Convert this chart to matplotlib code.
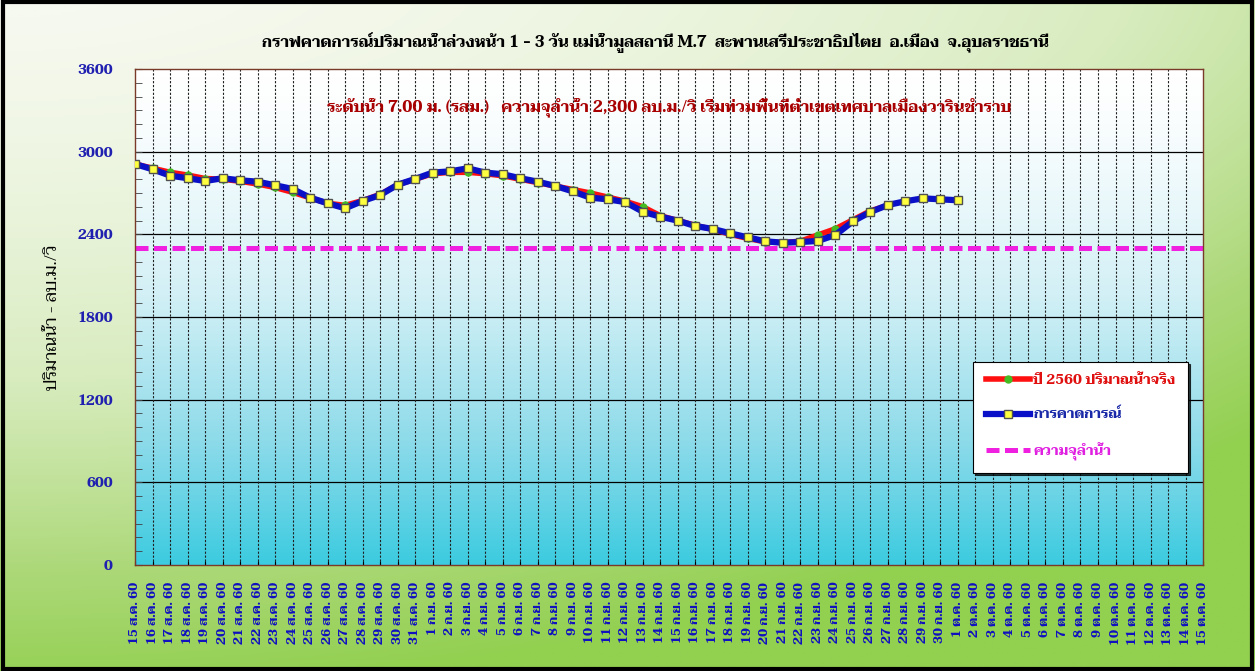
import numpy as np
import matplotlib
matplotlib.use("Agg")
import matplotlib.pyplot as plt
from matplotlib.colors import LinearSegmentedColormap
from matplotlib.patches import Rectangle
from matplotlib.ticker import MultipleLocator

# Thai-capable serif first, Latin fallback after
plt.rcParams['font.family'] = ['Taviraj', 'Noto Serif Thai', 'Trirong', 'Sarabun', 'Chakra Petch', 'DejaVu Serif']
plt.rcParams['font.weight'] = 'bold'

# === data ===
aug_days = list(range(15, 32))
sep_days = list(range(1, 31))
oct_days = list(range(1, 16))
dates = ([f"{d} ส.ค. 60" for d in aug_days] +
         [f"{d} ก.ย. 60" for d in sep_days] +
         [f"{d} ต.ค. 60" for d in oct_days])

# observed discharge 2560 (m3/s)
actual = [2910, 2880, 2850, 2830, 2805, 2800, 2785, 2765, 2740, 2705,
          2665, 2625, 2610, 2645, 2690, 2760, 2800, 2840, 2850, 2850,
          2840, 2825, 2800, 2775, 2750, 2725, 2700, 2670, 2640, 2600,
          2535, 2500, 2465, 2435, 2400, 2370, 2345, 2340, 2350, 2395,
          2440, 2505, 2570, 2610]

# forecast discharge (m3/s)
forecast = [2910, 2872, 2826, 2807, 2787, 2807, 2792, 2782, 2756, 2729,
            2666, 2625, 2589, 2642, 2685, 2760, 2802, 2848, 2857, 2879,
            2848, 2836, 2807, 2782, 2751, 2712, 2666, 2654, 2634, 2564,
            2528, 2499, 2460, 2439, 2407, 2378, 2349, 2339, 2344, 2352,
            2395, 2494, 2562, 2613, 2640, 2661, 2654, 2647]

capacity = 2300

title = "กราฟคาดการณ์ปริมาณน้ำล่วงหน้า 1 - 3 วัน แม่น้ำมูลสถานี M.7  สะพานเสรีประชาธิปไตย  อ.เมือง  จ.อุบลราชธานี"
note = "ระดับน้ำ 7.00 ม. (รสม.)   ความจุลำน้ำ 2,300 ลบ.ม./วิ เริ่มท่วมพื้นที่ต่ำเขตเทศบาลเมืองวารินชำราบ"

# === figure with green background ===
fig = plt.figure(figsize=(12.55, 6.71), dpi=100)
bg = fig.add_axes([0, 0, 1, 1], zorder=-10)
yy, xx = np.mgrid[0:1:300j, 0:1:600j]   # yy = 0 at the top row
shade = np.clip(0.95 * yy ** 1.5 + 0.5 * xx ** 2, 0, 1)
bg_cmap = LinearSegmentedColormap.from_list(
    "bg", [(0, "#f6f9ef"), (0.4, "#d8ecbf"), (0.75, "#acd878"), (1, "#92d050")])
bg.imshow(shade, cmap=bg_cmap, vmin=0, vmax=1, aspect="auto", extent=[0, 1, 0, 1])
bg.set_xlim(0, 1)
bg.set_ylim(0, 1)
bg.axis("off")

ax = fig.add_axes([0.1076, 0.158, 0.8510, 0.7392])
ax.set_facecolor("none")

# plot area gradient: white at top to cyan at bottom
grad = np.linspace(0, 1, 256).reshape(-1, 1) ** 1.4
pa_cmap = LinearSegmentedColormap.from_list("pa", ["#ffffff", "#d2f0f6", "#8edbea", "#3ccbe0"])
ax.imshow(grad, cmap=pa_cmap, aspect="auto", extent=[0, 1, 0, 1],
          transform=ax.transAxes, zorder=0)

x_all = np.arange(len(dates))

# grid
for v in range(600, 3600, 600):
    ax.axhline(v, color="black", lw=0.9, zorder=1)
for xi in x_all[1:-1]:
    ax.axvline(xi, color="#202020", lw=0.8, ls=(0, (2, 1.5)), zorder=1)

ax.plot(x_all, [capacity] * len(x_all), color="#f020e0", lw=3.6,
        ls=(0, (2.6, 1.1)), zorder=2, label="ความจุลำน้ำ")
ax.plot(np.arange(len(actual)), actual, color="#ff1010", lw=4, zorder=3,
        marker="o", ms=5, mfc="#44bb22", mec="#44bb22", label="ปี 2560 ปริมาณน้ำจริง")
ax.plot(np.arange(len(forecast)), forecast, color="#0a10c8", lw=4.5, zorder=4,
        marker="s", ms=5.8, mfc="#ffff40", mec="#505050", mew=1, label="การคาดการณ์")

ax.set_xlim(0, len(dates) - 1)
ax.set_ylim(0, 3600)
ax.yaxis.set_major_locator(MultipleLocator(600))
ax.yaxis.set_minor_locator(MultipleLocator(100))
ax.tick_params(axis="y", which="both", direction="in", length=5, color="#404040",
               labelcolor="#2020b0", labelsize=10, pad=16)
ax.set_xticks(x_all)
ax.set_xticklabels(dates, rotation=90, color="#1010c0", fontsize=9)
ax.tick_params(axis="x", direction="in", length=3, pad=12)
for s in ax.spines.values():
    s.set_color("#7a3a2a")
    s.set_linewidth(1)

ax.set_ylabel("ปริมาณน้ำ - ลบ.ม./วิ", fontsize=12.5, color="black", labelpad=12)

ax.text(0.5, 0.92, note, transform=ax.transAxes, ha="center", va="center",
        color="#a80000", fontsize=11.2, zorder=6)
fig.text(0.522, 0.937, title, ha="center", va="center", fontsize=11.2, color="black")

h, l = ax.get_legend_handles_labels()
order = [1, 2, 0]
leg = ax.legend([h[i] for i in order], [l[i] for i in order],
                loc="upper left", bbox_to_anchor=(0.785, 0.41),
                fancybox=False, framealpha=1, edgecolor="black", fontsize=10,
                handlelength=3.2, handletextpad=0.2, labelspacing=1.5,
                borderpad=0.9, borderaxespad=0,
                shadow={"color": "black", "alpha": 0.75, "ox": 1.5, "oy": -1.5})
leg.get_frame().set_linewidth(0.8)
leg.set_zorder(10)
for txt, c in zip(leg.get_texts(), ["#e01010", "#1a2aa8", "#e020e0"]):
    txt.set_color(c)

# outer frame
fig.patches.append(Rectangle((0.002, 0.003), 0.996, 0.994, transform=fig.transFigure,
                             fill=False, edgecolor="black", lw=3))

fig.savefig("out.png", dpi=100)
